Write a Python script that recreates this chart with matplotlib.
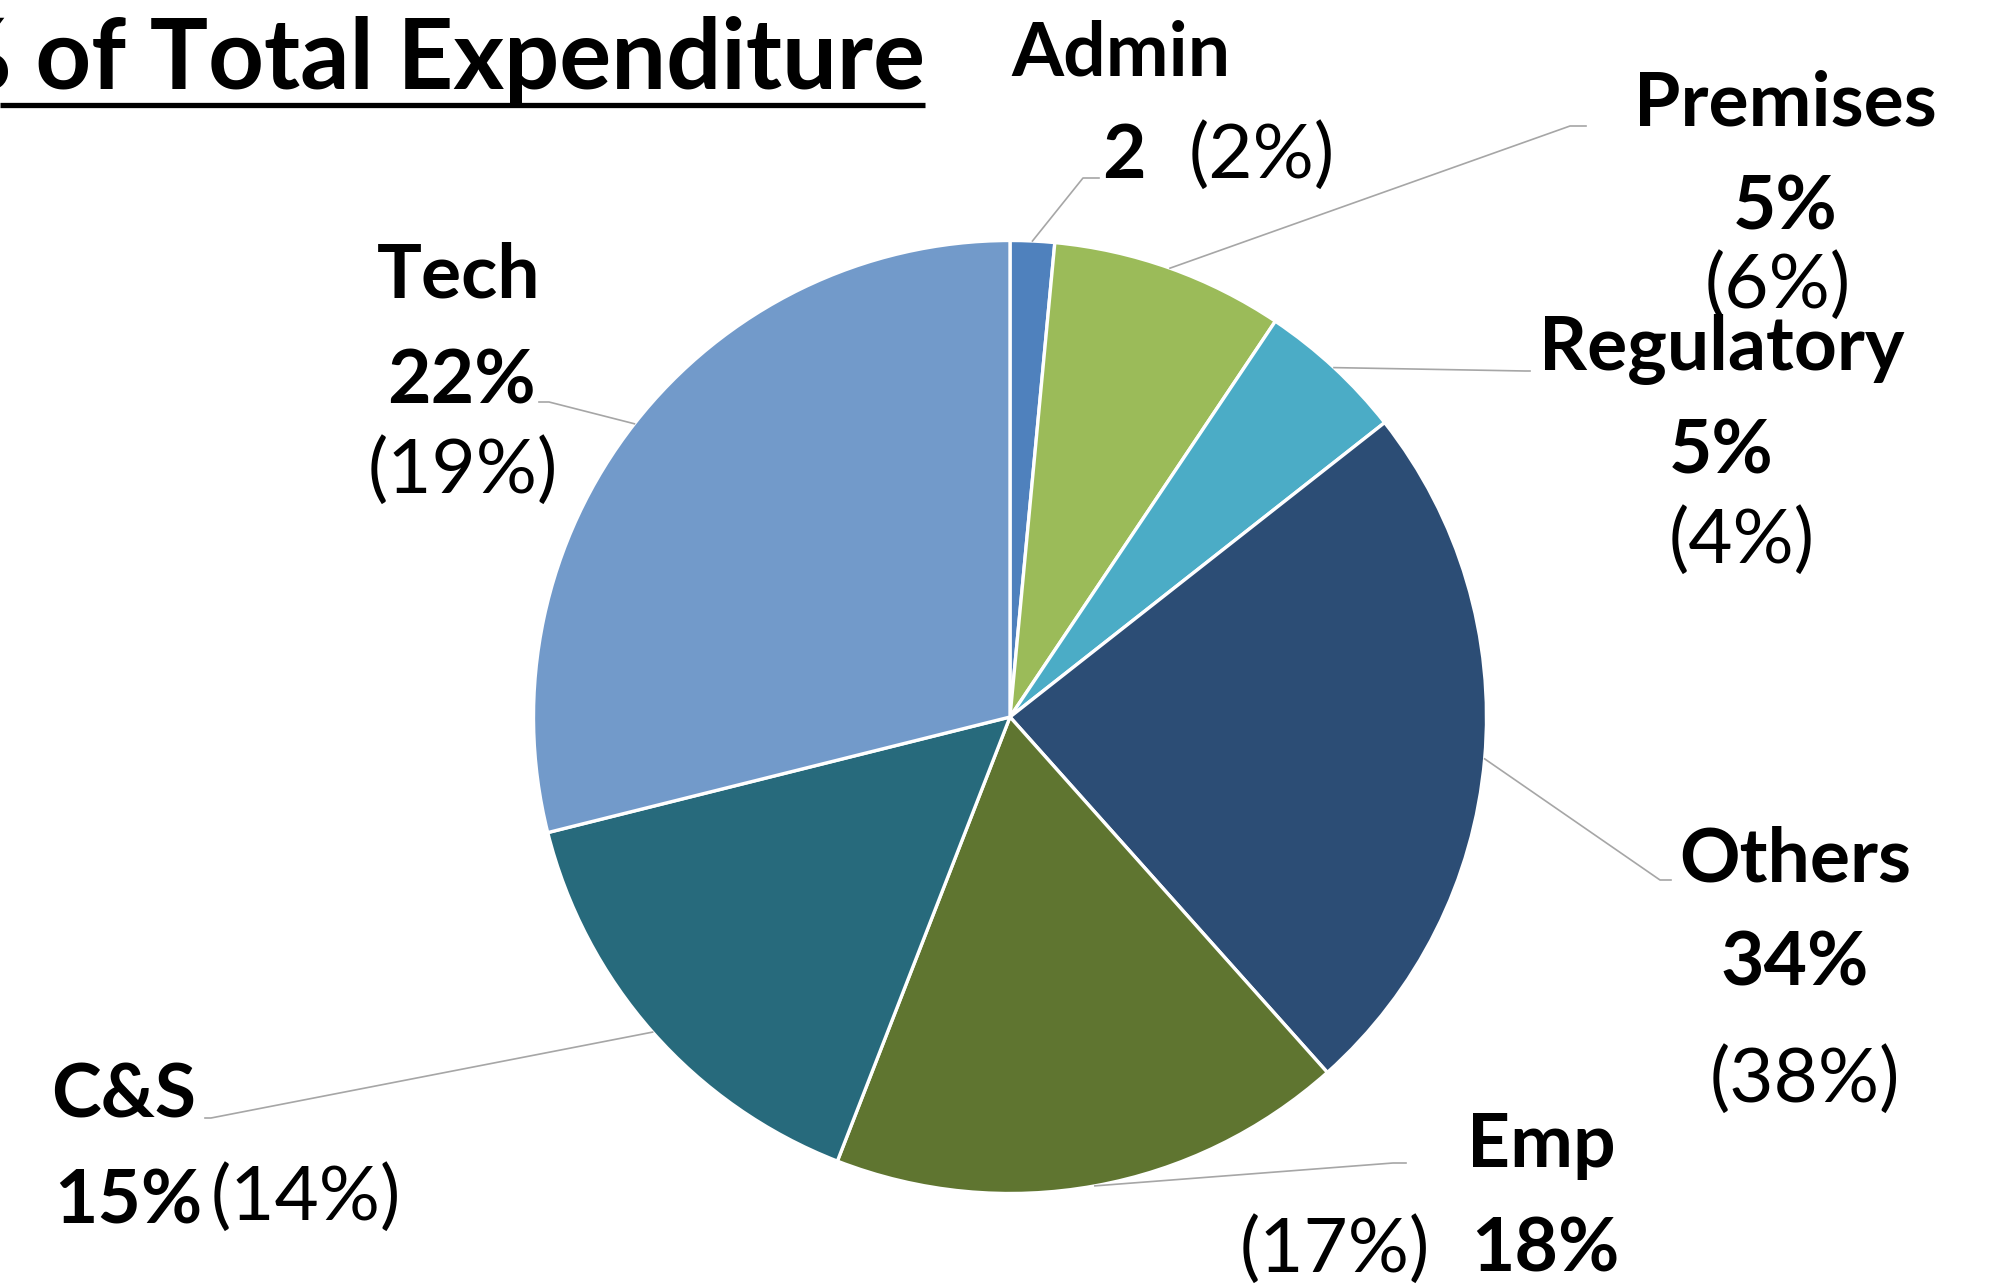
import matplotlib
matplotlib.use('Agg')
import matplotlib.pyplot as plt
import numpy as np

categories = ['Admin', 'Premises', 'Regulatory', 'Others', 'Emp', 'C&S', 'Tech']
slice_sizes = [1.5, 7.9, 5.0, 24.0, 17.5, 15.2, 28.9]
share_labels = ['2', '5%', '5%', '34%', '18%', '15%', '22%']
prior_labels = ['(2%)', '(6%)', '(4%)', '(38%)', '(17%)', '(14%)', '(19%)']
colors = ['#4F81BD', '#9BBB59', '#4BACC6', '#2C4D75', '#5F7530', '#276A7C', '#729ACA']
title = '% of Total Expenditure'

W, H = 2004, 1287
FONT = 'Lato'
FS = 54

# label layout in pixel coords (y down): (x, baseline, ha) for name, share, prior,
# then leader elbow and end point
layout = {
    'Admin':      dict(name=(1121, 75, 'center'), share=(1102, 178, 'left'), prior=(1189, 178, 'left'),
                       elbow=(1083, 178), end=(1099, 178)),
    'Premises':   dict(name=(1785, 125, 'center'), share=(1785, 230, 'center'), prior=(1778, 308, 'center'),
                       elbow=(1570, 126), end=(1586, 126)),
    'Regulatory': dict(name=(1722, 370, 'center'), share=(1721, 473, 'center'), prior=(1742, 563, 'center'),
                       elbow=(1525, 371), end=(1530, 371)),
    'Others':     dict(name=(1795, 882, 'center'), share=(1795, 985, 'center'), prior=(1805, 1102, 'center'),
                       elbow=(1660, 880), end=(1671, 880)),
    'Emp':        dict(name=(1541, 1167, 'center'), share=(1471, 1272, 'left'), prior=(1430, 1272, 'right'),
                       elbow=(1393, 1163), end=(1406, 1163)),
    'C&S':        dict(name=(51, 1118, 'left'), share=(54, 1223, 'left'), prior=(211, 1220, 'left'),
                       elbow=(211, 1118), end=(205, 1118)),
    'Tech':       dict(name=(459, 298, 'center'), share=(461, 403, 'center'), prior=(463, 493, 'center'),
                       elbow=(549, 402), end=(539, 402)),
}


def fy(y):
    return H - y


fig = plt.figure(figsize=(W / 100, H / 100), dpi=100)
ax = fig.add_axes([0, 0, 1, 1])

cx, cy, r = 1010, fy(717), 476.5
wedges, _ = ax.pie(slice_sizes, colors=colors, startangle=90, counterclock=False,
                   center=(cx, cy), radius=r,
                   wedgeprops=dict(edgecolor='white', linewidth=2.4))

ax.set_xlim(0, W)
ax.set_ylim(0, H)
ax.set_aspect('equal')
ax.axis('off')

for cat, w, share, prior in zip(categories, wedges, share_labels, prior_labels):
    lay = layout[cat]
    mid = np.deg2rad((w.theta1 + w.theta2) / 2)
    sx, sy = cx + r * np.cos(mid), cy + r * np.sin(mid)
    ex, ey = lay['elbow']
    tx, ty = lay['end']
    ax.plot([sx, ex, tx], [sy, fy(ey), fy(ty)], color='#A6A6A6', lw=1.2, zorder=1)

    x, y, ha = lay['name']
    ax.text(x, fy(y), cat, ha=ha, va='baseline', fontsize=FS, fontweight='bold', family=FONT)
    x, y, ha = lay['share']
    ax.text(x, fy(y), share, ha=ha, va='baseline', fontsize=FS, fontweight='bold', family=FONT)
    x, y, ha = lay['prior']
    ax.text(x, fy(y), prior, ha=ha, va='baseline', fontsize=FS + 1, family=FONT)

# title, cropped at the left edge, with underline
ax.text(925, fy(89), title, ha='right', va='baseline', fontsize=70, fontweight='bold', family=FONT)
ax.plot([0, 925], [fy(105), fy(105)], color='black', lw=3.8, solid_capstyle='butt')

fig.savefig('out.png', dpi=100)
